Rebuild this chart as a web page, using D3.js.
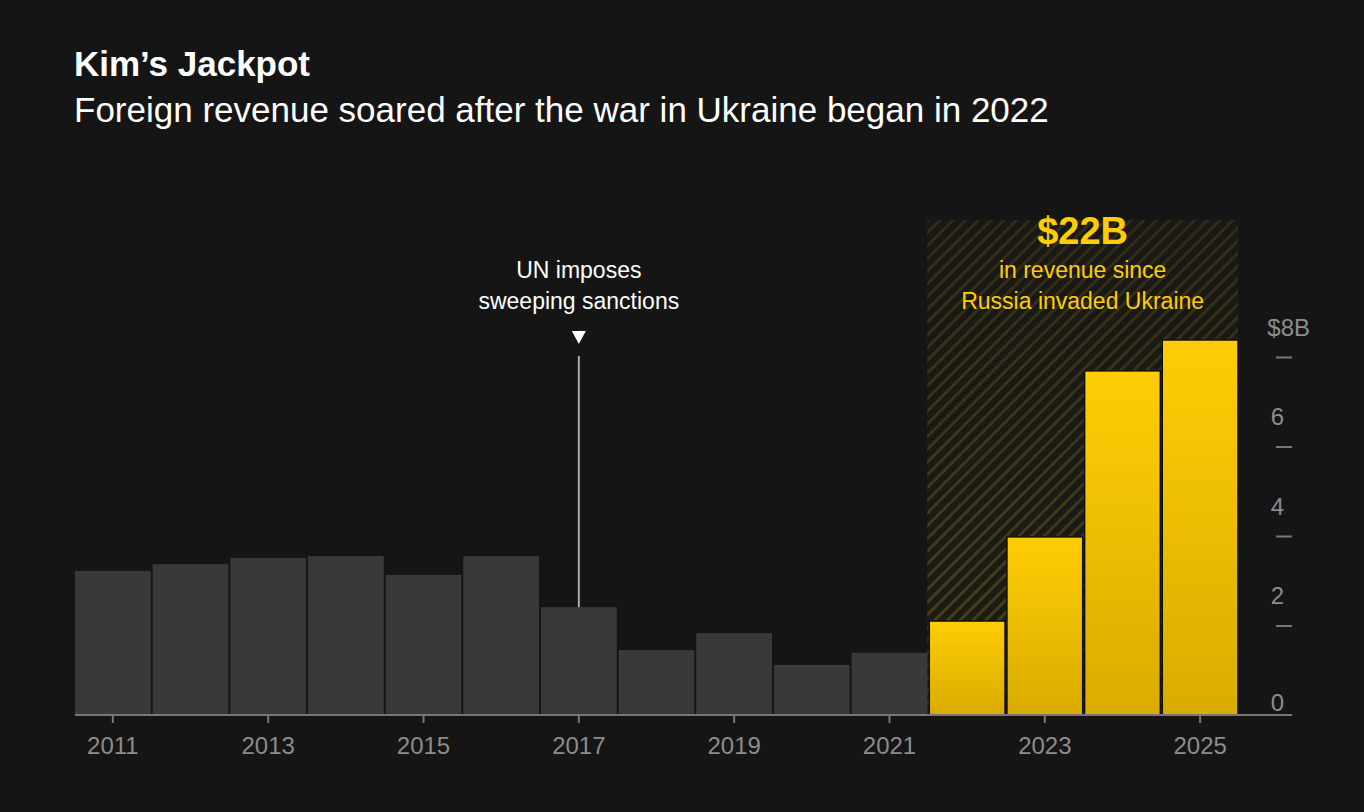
<!DOCTYPE html>
<html><head><meta charset="utf-8">
<script src="https://cdn.jsdelivr.net/npm/d3@7"></script>
<style>
body{margin:0;background:#151515;}
text{font-family:"Liberation Sans",Arial,sans-serif;}
</style></head>
<body><svg id="chart" width="1364" height="812"></svg>
<script>
const years = [2011,2012,2013,2014,2015,2016,2017,2018,2019,2020,2021,2022,2023,2024,2025];
const revenue = [3.22,3.37,3.51,3.55,3.13,3.55,2.41,1.45,1.83,1.12,1.39,2.10,3.98,7.69,8.38];
const yTicks = [0,2,4,6,8];
const xTickYears = [2011,2013,2015,2017,2019,2021,2023,2025];

const svg = d3.select("#chart");
svg.append("rect").attr("width",1364).attr("height",812).attr("fill","#151515");

const x = d3.scaleBand().domain(years).range([75,1238]).paddingInner(0.025).paddingOuter(0);
const y = d3.scaleLinear().domain([0,8]).range([715,357]);

const defs = svg.append("defs");
const pat = defs.append("pattern").attr("id","hatch").attr("patternUnits","userSpaceOnUse")
  .attr("width",9).attr("height",9).attr("patternTransform","rotate(45)");
pat.append("rect").attr("width",9).attr("height",9).attr("fill","#1c1b16");
pat.append("rect").attr("width",3).attr("height",9).attr("fill","#4a4116");
const grad = defs.append("linearGradient").attr("id","fade").attr("x1",0).attr("x2",0).attr("y1",0).attr("y2",1);
grad.append("stop").attr("offset","0%").attr("stop-color","#151515").attr("stop-opacity",0.5);
grad.append("stop").attr("offset","100%").attr("stop-color","#151515").attr("stop-opacity",0);
const ygrad = defs.append("linearGradient").attr("id","ybar").attr("x1",0).attr("x2",0).attr("y1",0).attr("y2",1);
ygrad.append("stop").attr("offset","0%").attr("stop-color","#ffcd05");
ygrad.append("stop").attr("offset","100%").attr("stop-color","#d9ac00");

// hatched war period
const hx = x(2022) - 2, hw = x(2025) + x.bandwidth() - hx;
svg.append("rect").attr("x",hx).attr("y",220).attr("width",hw).attr("height",715-220).attr("fill","url(#hatch)");
svg.append("rect").attr("x",hx).attr("y",220).attr("width",hw).attr("height",715-220).attr("fill","url(#fade)");

// bars
svg.selectAll(".bar").data(years).join("rect")
  .attr("x",d=>x(d)).attr("width",x.bandwidth())
  .attr("y",(d,i)=>y(revenue[i])).attr("height",(d,i)=>y(0)-y(revenue[i]))
  .attr("fill",d=>d>=2022?"url(#ybar)":"#393939")
  .attr("stroke",d=>d>=2022?"#111":"none").attr("stroke-width",1.5);

// x axis
svg.append("line").attr("x1",75).attr("x2",1292).attr("y1",715).attr("y2",715).attr("stroke","#777").attr("stroke-width",2);
const xa = svg.append("g").attr("transform","translate(0,715)")
  .call(d3.axisBottom(x).tickValues(xTickYears).tickSize(8).tickPadding(14));
xa.select(".domain").remove();
xa.selectAll("line").attr("stroke","#777").attr("stroke-width",2);
xa.selectAll("text").attr("fill","#8c8c8c").style("font-size","24px");

// y axis
const ya = svg.append("g").attr("transform","translate(1292,0)")
  .call(d3.axisLeft(y).tickValues(yTicks).tickSize(16).tickFormat(d=>d===8?"$8B":d));
ya.select(".domain").remove();
ya.selectAll("line").attr("stroke","#777").attr("stroke-width",2);
ya.selectAll("text").attr("x",-8).attr("dy","-0.9em").attr("fill","#8c8c8c")
  .attr("text-anchor","end").style("font-size","24px");
ya.selectAll(".tick").filter(d=>d===8).select("text").attr("x",18);
ya.selectAll(".tick").filter(d=>d===0).select("line").remove();
ya.selectAll(".tick").filter(d=>d===0).select("text").attr("dy","-0.2em");

// annotation 2017
const ax = x(2017) + x.bandwidth()/2;
svg.append("line").attr("x1",ax).attr("x2",ax).attr("y1",356).attr("y2",y(revenue[6])).attr("stroke","#aaa").attr("stroke-width",2);
svg.append("path").attr("d",`M${ax-7},${331}L${ax+7},${331}L${ax},${344}Z`).attr("fill","#fff");
svg.append("text").attr("x",ax).attr("y",278).attr("text-anchor","middle").attr("fill","#fff").style("font-size","23px").text("UN imposes");
svg.append("text").attr("x",ax).attr("y",309).attr("text-anchor","middle").attr("fill","#fff").style("font-size","23px").text("sweeping sanctions");

// war annotation
const wx = hx + hw/2;
svg.append("text").attr("x",wx).attr("y",244).attr("text-anchor","middle").attr("fill","#ffcd05").style("font-size","38px").style("font-weight","bold").text("$22B");
svg.append("text").attr("x",wx).attr("y",278).attr("text-anchor","middle").attr("fill","#ffcd05").style("font-size","23px").text("in revenue since");
svg.append("text").attr("x",wx).attr("y",309).attr("text-anchor","middle").attr("fill","#ffcd05").style("font-size","23px").text("Russia invaded Ukraine");

// titles
svg.append("text").attr("x",74).attr("y",76).attr("fill","#fff").style("font-size","35px").style("font-weight","bold").text("Kim’s Jackpot");
svg.append("text").attr("x",74).attr("y",122).attr("fill","#fff").style("font-size","35px").text("Foreign revenue soared after the war in Ukraine began in 2022");
</script></body></html>
